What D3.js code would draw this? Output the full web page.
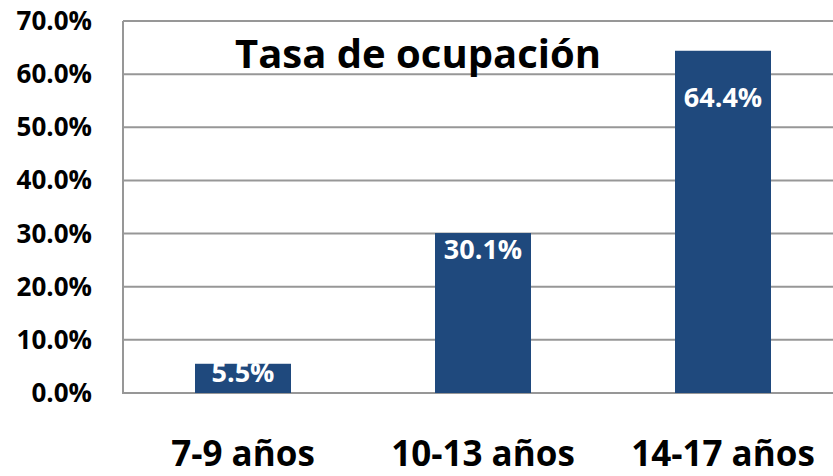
<!DOCTYPE html>
<html>
<head>
<meta charset="utf-8">
<script src="https://cdn.jsdelivr.net/npm/d3@7"></script>
<style>
  body { margin: 0; background: #fff; }
  text { font-family: "Open Sans", sans-serif; font-weight: 700; }
</style>
</head>
<body>
<svg width="833" height="476"></svg>
<script>
// data
var categories = ["7-9 años", "10-13 años", "14-17 años"];
var values = [5.5, 30.1, 64.4];
var yTicks = [0, 10, 20, 30, 40, 50, 60, 70];
var title = "Tasa de ocupación";

var svg = d3.select("svg");
var plotLeft = 123, plotRight = 843, plotTop = 21, plotBottom = 393;

var x = d3.scaleBand()
	.domain(categories)
	.range([plotLeft, plotRight])
	.paddingInner(0.6)
	.paddingOuter(0.3);

var y = d3.scaleLinear()
	.domain([0, 70])
	.range([plotBottom, plotTop]);

// gridlines
svg.append("g")
	.selectAll("line")
	.data(yTicks)
	.join("line")
	.attr("x1", plotLeft)
	.attr("x2", 833)
	.attr("y1", d => y(d))
	.attr("y2", d => y(d))
	.attr("stroke", "#979797")
	.attr("stroke-width", 2);

// y axis line
svg.append("line")
	.attr("x1", plotLeft).attr("x2", plotLeft)
	.attr("y1", plotTop).attr("y2", plotBottom + 1)
	.attr("stroke", "#979797")
	.attr("stroke-width", 2);

// y tick labels
svg.append("g")
	.selectAll("text")
	.data(yTicks)
	.join("text")
	.attr("x", 92)
	.attr("y", d => y(d) + 9)
	.attr("text-anchor", "end")
	.attr("font-size", 26)
	.attr("fill", "#000")
	.text(d => d.toFixed(1) + "%");

// bars
svg.append("g")
	.selectAll("rect")
	.data(values)
	.join("rect")
	.attr("x", (d, i) => x(categories[i]))
	.attr("y", d => y(d))
	.attr("width", x.bandwidth())
	.attr("height", d => y(0) - y(d))
	.attr("fill", "#1f497d");

// title
svg.append("text")
	.attr("x", 418)
	.attr("y", 68)
	.attr("text-anchor", "middle")
	.attr("font-size", 40)
	.attr("fill", "#000")
	.text(title);

// value labels, kept clear of the title and inside the bar
svg.append("g")
	.selectAll("text")
	.data(values)
	.join("text")
	.attr("x", (d, i) => x(categories[i]) + x.bandwidth() / 2)
	.attr("y", d => Math.min(Math.max(y(d) + 26, 107), y(0) - 11))
	.attr("text-anchor", "middle")
	.attr("font-size", 27)
	.attr("fill", "#fff")
	.text(d => d.toFixed(1) + "%");

// category labels
svg.append("g")
	.selectAll("text")
	.data(categories)
	.join("text")
	.attr("x", d => x(d) + x.bandwidth() / 2)
	.attr("y", 466)
	.attr("text-anchor", "middle")
	.attr("font-size", 35)
	.attr("fill", "#000")
	.text(d => d);
</script>
</body>
</html>
